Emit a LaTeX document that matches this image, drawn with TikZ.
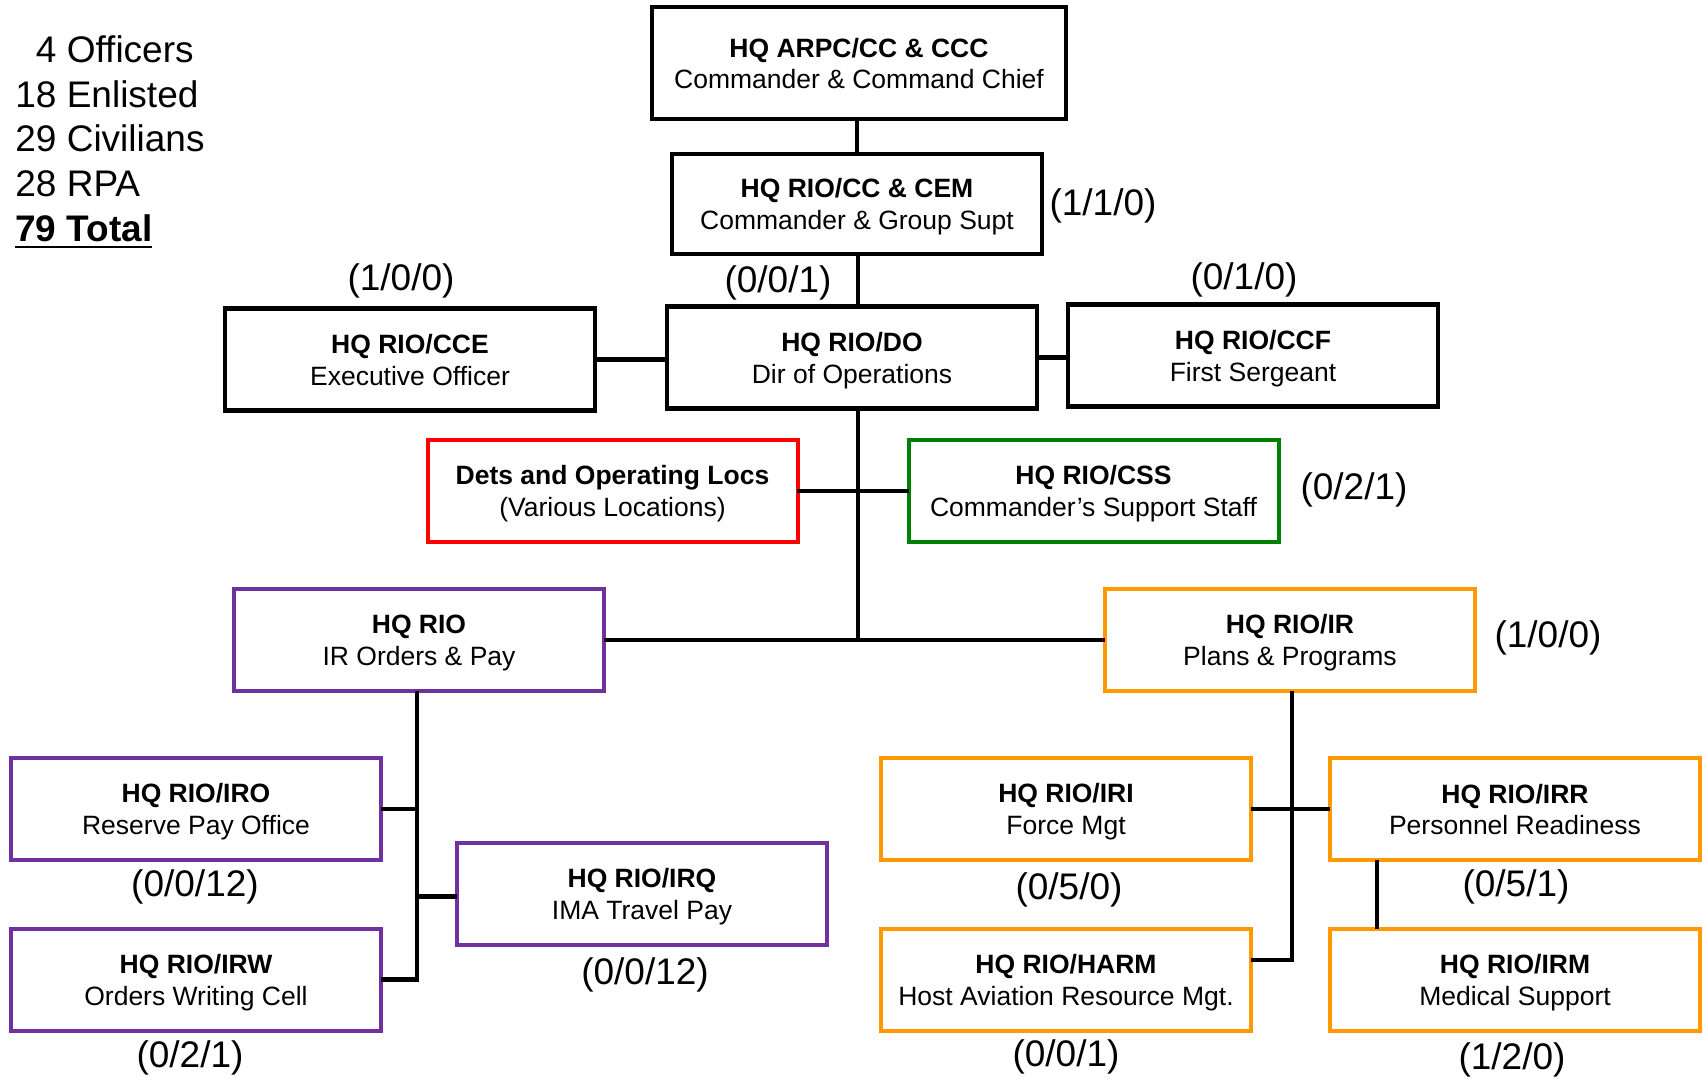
\documentclass[tikz,border=0pt]{standalone}
\usepackage{fontspec}
\setmainfont{Liberation Sans}
\usetikzlibrary{calc}
\definecolor{rpurple}{RGB}{112,48,160}
\definecolor{rorange}{RGB}{255,153,0}
\definecolor{rgreen}{RGB}{0,128,0}
\definecolor{rred}{RGB}{255,0,0}
\newcommand{\myul}[1]{\setbox0\hbox{#1}\rlap{\rule[-3.2pt]{\wd0}{1.3pt}}\box0}
\newcommand{\boxtxt}[2]{\rule{0pt}{12.5pt}\textbf{#1}\\#2\rule[-2.5pt]{0pt}{2.5pt}}
\begin{document}
\begin{tikzpicture}[x=0.5pt,y=-0.5pt,
  orgbox/.style={draw=black,line width=2.2pt,minimum width=185pt,minimum height=51pt,
    inner sep=0pt,align=center,font=\fontsize{13.25}{15.9}\selectfont},
  pbox/.style={orgbox,draw=rpurple,line width=2pt},
  obox/.style={orgbox,draw=rorange,line width=2pt},
  count/.style={inner sep=0pt,font=\fontsize{18.5}{22}\selectfont},
  legend/.style={inner sep=0pt,anchor=base west,font=\fontsize{18.5}{22}\selectfont},
  link/.style={line width=2.2pt,line cap=rect}]
\useasboundingbox (0,0) rectangle (1703,1081);

% legend
\node[legend] (leg1) at (15,63) {\phantom{1}4 Officers};
\node[legend] (leg2) at (15,108) {18 Enlisted};
\node[legend] (leg3) at (15,152) {29 Civilians};
\node[legend] (leg4) at (15,197) {28 RPA};
\node[legend] (leg5) at (15,242) {\myul{\textbf{79 Total}}};

% boxes
\node[orgbox,minimum width=207pt,minimum height=56pt] (arpc) at (859,63)
  {\boxtxt{HQ ARPC/CC \& CCC}{Commander \& Command Chief}};
\node[orgbox,minimum height=50pt] (cc) at (857,204)
  {\boxtxt{HQ RIO/CC \& CEM}{Commander \& Group Supt}};
\node[orgbox] (cce) at (410,359.5) {\boxtxt{HQ RIO/CCE}{Executive Officer}};
\node[orgbox] (do) at (852,357.5) {\boxtxt{HQ RIO/DO}{Dir of Operations}};
\node[orgbox] (ccf) at (1253,355.5) {\boxtxt{HQ RIO/CCF}{First Sergeant}};
\node[orgbox,draw=rred,line width=2pt] (dets) at (612.5,491)
  {\boxtxt{Dets and Operating Locs}{(Various Locations)}};
\node[orgbox,draw=rgreen,line width=2pt] (css) at (1093.5,491)
  {\boxtxt{HQ RIO/CSS}{Commander’s Support Staff}};
\node[pbox] (rio) at (419,640) {\boxtxt{HQ RIO}{IR Orders \& Pay}};
\node[obox] (ir) at (1290,640) {\boxtxt{HQ RIO/IR}{Plans \& Programs}};
\node[pbox] (iro) at (196,809) {\boxtxt{HQ RIO/IRO}{Reserve Pay Office}};
\node[pbox] (irw) at (196,979.5) {\boxtxt{HQ RIO/IRW}{Orders Writing Cell}};
\node[pbox] (irq) at (642,893.5) {\boxtxt{HQ RIO/IRQ}{IMA Travel Pay}};
\node[obox] (iri) at (1066,809) {\boxtxt{HQ RIO/IRI}{Force Mgt}};
\node[obox] (irr) at (1515,809) {\boxtxt{HQ RIO/IRR}{Personnel Readiness}};
\node[obox] (harm) at (1066,979.5) {\boxtxt{HQ RIO/HARM}{Host Aviation Resource Mgt.}};
\node[obox] (irm) at (1515,979.5) {\boxtxt{HQ RIO/IRM}{Medical Support}};

% counts
\node[count] (c1) at (401,281) {(1/0/0)};
\node[count] (c2) at (778,283) {(0/0/1)};
\node[count] (c3) at (1103,206) {(1/1/0)};
\node[count] (c4) at (1244,280) {(0/1/0)};
\node[count] (c5) at (1354,490) {(0/2/1)};
\node[count] (c6) at (1548,638) {(1/0/0)};
\node[count] (c7) at (195,887) {(0/0/12)};
\node[count] (c8) at (645,975) {(0/0/12)};
\node[count] (c9) at (190,1058) {(0/2/1)};
\node[count] (c10) at (1069,890) {(0/5/0)};
\node[count] (c11) at (1516,887) {(0/5/1)};
\node[count] (c12) at (1066,1057) {(0/0/1)};
\node[count] (c13) at (1512,1060) {(1/2/0)};

% connectors
\coordinate (tr) at (858,640);
\draw[link] (arpc.south -| cc.north) -- (cc.north);
\draw[link] (cc.south -| tr) -- (do.north -| tr);
\draw[link] (do.south -| tr) -- (tr);
\draw[link] (cce.east) -- (cce.east -| do.west);
\draw[link] (do.east) -- (do.east -| ccf.west);
\draw[link] (dets.east) -- (css.west);
\draw[link] (rio.east) -- (ir.west);

\coordinate (rv) at (417,693);
\coordinate (qj) at ($(irq.west)+(0,3)$);
\draw[link] (rio.south -| rv) |- (irw.east);
\draw[link] (iro.east) -- (iro.east -| rv);
\draw[link] (qj) -- (qj -| rv);

\coordinate (iv) at (1292,693);
\coordinate (hj) at ($(harm.east)+(0,-19.5)$);
\coordinate (mt) at ($(irr.south)+(-138,0)$);
\coordinate (mb) at ($(irm.north)+(-138,0)$);
\draw[link] (ir.south -| iv) |- (hj);
\draw[link] (iri.east) -- (irr.west);
\draw[link] (mt) -- (mb);
\end{tikzpicture}
\end{document}
